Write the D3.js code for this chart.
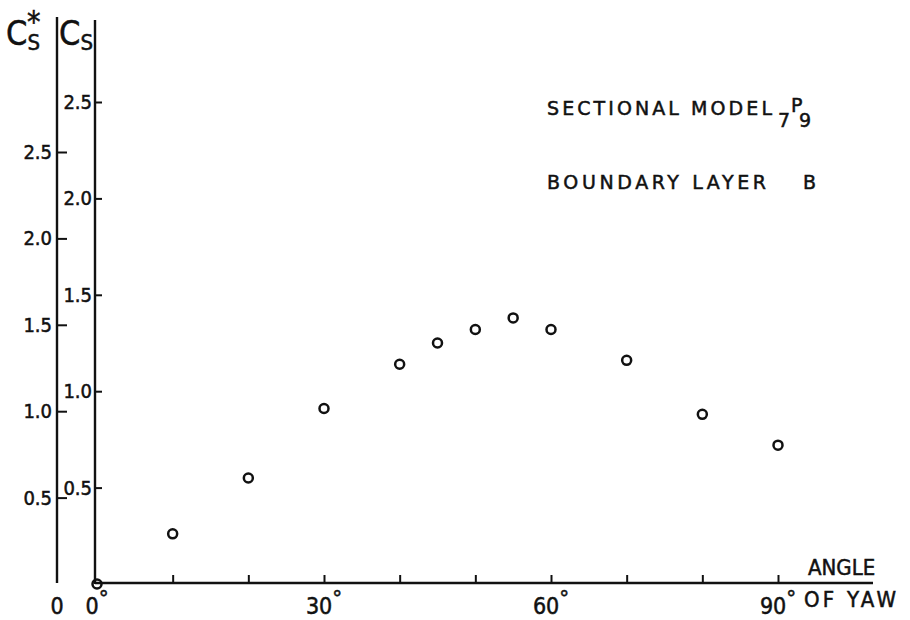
<!DOCTYPE html>
<html>
<head>
<meta charset="utf-8">
<script src="https://cdn.jsdelivr.net/npm/d3@7"></script>
<style>
  body { margin: 0; background: #fff; }
  svg text { font-family: "DejaVu Sans Condensed", "Liberation Sans Narrow", "DejaVu Sans", sans-serif; fill: #111; stroke: #111; stroke-width: 0.5px; }
  svg text.wide { font-family: "DejaVu Sans", "Liberation Sans", sans-serif; }
  .axis path, .axis line { stroke: #111; stroke-width: 2; }
</style>
</head>
<body>
<div id="chart"></div>
<script>
// angle of yaw (degrees) and side force coefficient Cs
const angles = [0, 10, 20, 30, 40, 45, 50, 55, 60, 70, 80, 90];
const csValues = [0, 0.26, 0.55, 0.91, 1.14, 1.25, 1.32, 1.38, 1.32, 1.16, 0.88, 0.72];

const csTicks = [0.5, 1.0, 1.5, 2.0, 2.5];
const csStarTicks = [0.5, 1.0, 1.5, 2.0, 2.5];
const xTicks = [10, 20, 30, 40, 50, 60, 70, 80, 90];
const xLabelTicks = [0, 30, 60, 90];

const width = 910;
const height = 620;

const svg = d3.select(`#chart`)
  .append(`svg`)
    .attr(`width`, width)
    .attr(`height`, height);

const x = d3.scaleLinear().domain([0, 90]).range([97, 778]);
const yCs = d3.scaleLinear().domain([0, 2.5]).range([584, 102]);
const yCsStar = d3.scaleLinear().domain([0, 2.5]).range([584, 152]);

// Cs* axis (outer)
svg.append(`line`)
  .attr(`x1`, 57).attr(`x2`, 57)
  .attr(`y1`, 17).attr(`y2`, 583)
  .attr(`stroke`, `#111`).attr(`stroke-width`, 2.4);

svg.append(`g`)
  .attr(`class`, `axis`)
  .attr(`transform`, `translate(57,0)`)
  .call(d3.axisLeft(yCsStar).tickValues(csStarTicks).tickSize(-10).tickPadding(5).tickFormat(d3.format(`.1f`)))
  .call(g => g.select(`.domain`).remove())
  .call(g => g.selectAll(`text`).style(`font-size`, `20px`));

// Cs axis (inner)
svg.append(`line`)
  .attr(`x1`, 95).attr(`x2`, 95)
  .attr(`y1`, 20).attr(`y2`, 584)
  .attr(`stroke`, `#111`).attr(`stroke-width`, 2.4);

svg.append(`g`)
  .attr(`class`, `axis`)
  .attr(`transform`, `translate(95,0)`)
  .call(d3.axisLeft(yCs).tickValues(csTicks).tickSize(-7).tickPadding(3).tickFormat(d3.format(`.1f`)))
  .call(g => g.select(`.domain`).remove())
  .call(g => g.selectAll(`text`).style(`font-size`, `20px`));

// x axis, ticks pointing up
svg.append(`line`)
  .attr(`x1`, 95).attr(`x2`, 873)
  .attr(`y1`, 583).attr(`y2`, 583)
  .attr(`stroke`, `#111`).attr(`stroke-width`, 2.4);

svg.append(`g`)
  .attr(`class`, `axis`)
  .attr(`transform`, `translate(0,583)`)
  .call(d3.axisBottom(x).tickValues(xTicks).tickSize(-8).tickFormat(``))
  .call(g => g.select(`.domain`).remove());

svg.append(`g`)
  .selectAll(`text`)
  .data(xLabelTicks)
  .enter().append(`text`)
    .attr(`x`, d => x(d))
    .attr(`y`, 614)
    .attr(`text-anchor`, `middle`)
    .style(`font-size`, `23px`)
    .text(d => d)
  .append(`tspan`)
    .attr(`dy`, -8)
    .style(`font-size`, `22px`)
    .text(`°`);

// zero under Cs* axis
svg.append(`text`)
  .attr(`x`, 57).attr(`y`, 614)
  .attr(`text-anchor`, `middle`)
  .style(`font-size`, `23px`)
  .text(`0`);

// axis titles
const t1 = svg.append(`text`).attr(`x`, 6).attr(`y`, 45).style(`font-size`, `34px`);
t1.append(`tspan`).text(`C`);
t1.append(`tspan`).attr(`dy`, 5).style(`font-size`, `22px`).text(`S`);
t1.append(`tspan`).attr(`dx`, -13).attr(`dy`, -18).style(`font-size`, `30px`).text(`*`);

const t2 = svg.append(`text`).attr(`x`, 59).attr(`y`, 45).style(`font-size`, `34px`);
t2.append(`tspan`).text(`C`);
t2.append(`tspan`).attr(`dy`, 5).style(`font-size`, `22px`).text(`S`);

// x title
svg.append(`text`).attr(`x`, 808).attr(`y`, 575).style(`font-size`, `22px`).text(`ANGLE`);
svg.append(`text`).attr(`x`, 804).attr(`y`, 607).style(`font-size`, `22px`)
  .attr(`textLength`, 92).attr(`lengthAdjust`, `spacing`)
  .text(`OF YAW`);

// annotation
const model = svg.append(`text`).attr(`class`, `wide`).attr(`x`, 547).attr(`y`, 115).style(`font-size`, `19px`);
model.append(`tspan`).attr(`textLength`, 225).attr(`lengthAdjust`, `spacing`).text(`SECTIONAL MODEL`);
model.append(`tspan`).attr(`x`, 778).attr(`dy`, 12).text(`7`);
model.append(`tspan`).attr(`x`, 791).attr(`dy`, -15).text(`P`);
model.append(`tspan`).attr(`x`, 799).attr(`dy`, 15).text(`9`);

const layer = svg.append(`text`).attr(`class`, `wide`).attr(`x`, 547).attr(`y`, 189).style(`font-size`, `19px`);
layer.append(`tspan`).attr(`textLength`, 219).attr(`lengthAdjust`, `spacing`).text(`BOUNDARY LAYER`);
layer.append(`tspan`).attr(`x`, 803).text(`B`);

// data points
svg.append(`g`)
  .selectAll(`circle`)
  .data(angles.map((a, i) => ({angle: a, cs: csValues[i]})))
  .enter().append(`circle`)
    .attr(`cx`, d => x(d.angle))
    .attr(`cy`, d => yCs(d.cs))
    .attr(`r`, 4.5)
    .attr(`fill`, `none`)
    .attr(`stroke`, `#111`)
    .attr(`stroke-width`, 2.5);
</script>
</body>
</html>
